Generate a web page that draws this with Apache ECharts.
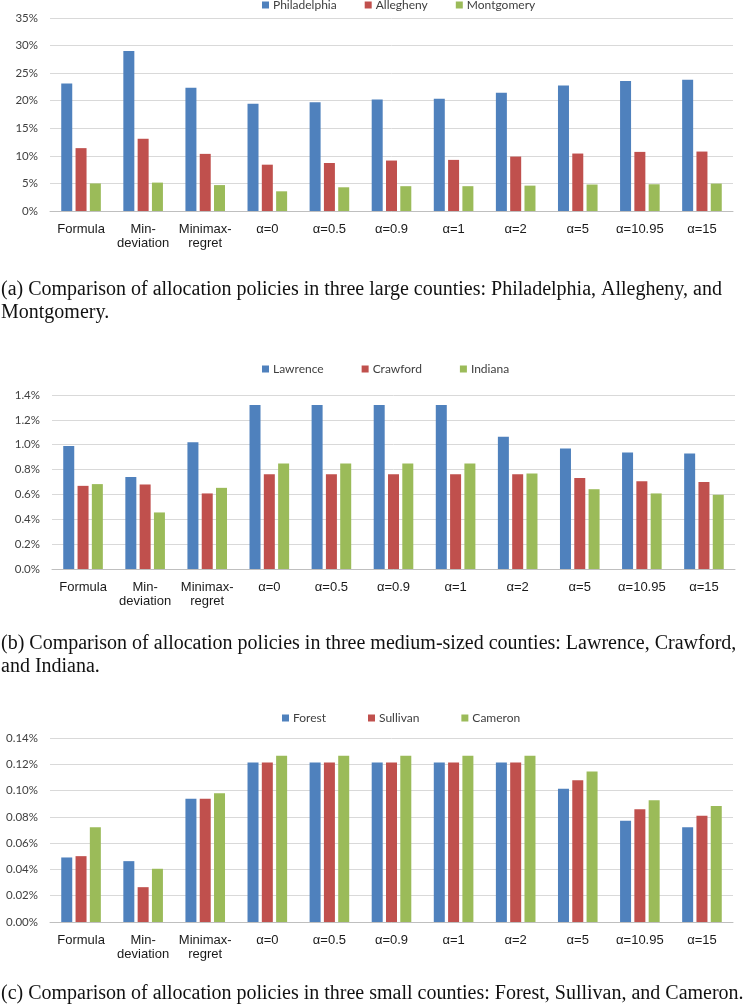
<!DOCTYPE html>
<html>
<head>
<meta charset="utf-8">
<script src="https://cdn.jsdelivr.net/npm/echarts@6/dist/echarts.min.js"></script>
<style>
html,body{margin:0;padding:0;background:#fff;}
#chart{width:750px;height:1007px;}
</style>
</head>
<body>
<div id="chart"></div>
<script>
// ---------- data ----------
const categories = ['Formula', 'Min-\ndeviation', 'Minimax-\nregret', 'α=0', 'α=0.5', 'α=0.9', 'α=1', 'α=2', 'α=5', 'α=10.95', 'α=15'];

const namesA = ['Philadelphia', 'Allegheny', 'Montgomery'];
const philadelphia = [23.1, 29.0, 22.35, 19.45, 19.7, 20.2, 20.35, 21.45, 22.77, 23.56, 23.8];
const allegheny    = [11.4, 13.1, 10.36, 8.4, 8.7, 9.15, 9.27, 9.87, 10.42, 10.72, 10.78];
const montgomery   = [5.0, 5.15, 4.7, 3.57, 4.3, 4.5, 4.5, 4.6, 4.8, 4.85, 4.97];

const namesB = ['Lawrence', 'Crawford', 'Indiana'];
const lawrence = [0.99, 0.741, 1.02, 1.32, 1.32, 1.32, 1.32, 1.065, 0.969, 0.937, 0.929];
const crawford = [0.669, 0.68, 0.608, 0.763, 0.763, 0.763, 0.763, 0.763, 0.733, 0.707, 0.701];
const indiana  = [0.683, 0.455, 0.653, 0.848, 0.848, 0.848, 0.848, 0.768, 0.642, 0.608, 0.597];

const namesC = ['Forest', 'Sullivan', 'Cameron'];
const forest   = [0.0491, 0.0463, 0.0937, 0.1214, 0.1214, 0.1214, 0.1214, 0.1214, 0.1013, 0.0771, 0.0720];
const sullivan = [0.0501, 0.0265, 0.0937, 0.1214, 0.1214, 0.1214, 0.1214, 0.1214, 0.1079, 0.0858, 0.0809];
const cameron  = [0.0720, 0.0405, 0.0980, 0.1265, 0.1265, 0.1265, 0.1265, 0.1265, 0.1145, 0.0927, 0.0883];

const captionA = ['(a) Comparison of allocation policies in three large counties: Philadelphia, Allegheny, and', 'Montgomery.'];
const captionB = ['(b) Comparison of allocation policies in three medium-sized counties: Lawrence, Crawford,', 'and Indiana.'];
const captionC = ['(c) Comparison of allocation policies in three small counties: Forest, Sullivan, and Cameron.'];

// ---------- styling ----------
const colors = ['#4F81BD', '#C0504D', '#9BBB59'];
const serif = '"Liberation Serif", "DejaVu Serif", serif';

// caption font size so that caption (c) spans the page width
const cv = document.createElement('canvas').getContext('2d');
cv.font = '100px ' + serif;
const wC = cv.measureText(captionC[0]).width;
const capSize = Math.min(20, 100 * 746 / wC);

const grids = [
  {left: 50, top: 18, width: 683, height: 193},
  {left: 52, top: 395, width: 683, height: 174},
  {left: 50, top: 738, width: 683, height: 184}
];
const yMax = [35, 1.4, 0.14];
const yInt = [5, 0.2, 0.02];
const yDec = [0, 1, 2];
const seriesData = [
  [philadelphia, allegheny, montgomery],
  [lawrence, crawford, indiana],
  [forest, sullivan, cameron]
];
const seriesNames = [namesA, namesB, namesC];
const legendPos = [{left: 262, gap: 28}, {left: 262, gap: 38}, {left: 282, gap: 42}];
const legendTop = [-1, 363, 712];

const option = {
  animation: false,
  backgroundColor: '#fff',
  color: colors,
  grid: grids,
  legend: seriesNames.map((names, i) => ({
    data: names,
    left: legendPos[i].left,
    top: legendTop[i],
    padding: 0,
    itemGap: legendPos[i].gap,
    itemWidth: 7,
    itemHeight: 7,
    icon: 'rect',
    textStyle: {fontFamily: 'Lato, "Open Sans", sans-serif', fontSize: 12, color: '#404040', padding: [0, 0, 0, -1]}
  })),
  xAxis: grids.map((g, i) => ({
    type: 'category',
    gridIndex: i,
    data: categories,
    axisTick: {show: false},
    axisLine: {lineStyle: {color: '#BFBFBF'}},
    axisLabel: {fontFamily: '"Liberation Sans", Arial, sans-serif', fontSize: 13, color: '#1a1a1a', margin: 11, lineHeight: 14, interval: 0}
  })),
  yAxis: grids.map((g, i) => ({
    type: 'value',
    gridIndex: i,
    min: 0,
    max: yMax[i],
    interval: yInt[i],
    axisLine: {show: false},
    axisTick: {show: false},
    splitLine: {lineStyle: {color: '#D9D9D9'}},
    axisLabel: {
      fontFamily: 'Lato, "Open Sans", sans-serif', fontSize: 11.5, color: '#404040', margin: 12,
      formatter: v => v.toFixed(yDec[i]) + '%'
    }
  })),
  series: [],
  graphic: []
};

seriesData.forEach((group, gi) => {
  group.forEach((arr, si) => {
    option.series.push({
      type: 'bar',
      name: seriesNames[gi][si],
      xAxisIndex: gi,
      yAxisIndex: gi,
      data: arr,
      barWidth: 11,
      barGap: '30%',
      itemStyle: {color: colors[si]}
    });
  });
});

const capTops = [[280, 303], [634, 657], [984]];
[captionA, captionB, captionC].forEach((lines, ci) => {
  lines.forEach((line, li) => {
    option.graphic.push({
      type: 'text',
      left: 1,
      top: capTops[ci][li],
      style: {text: line, font: capSize.toFixed(2) + 'px ' + serif, fill: '#111'}
    });
  });
});

const chart = echarts.init(document.getElementById('chart'), null, {renderer: 'canvas'});
chart.setOption(option);
</script>
</body>
</html>
